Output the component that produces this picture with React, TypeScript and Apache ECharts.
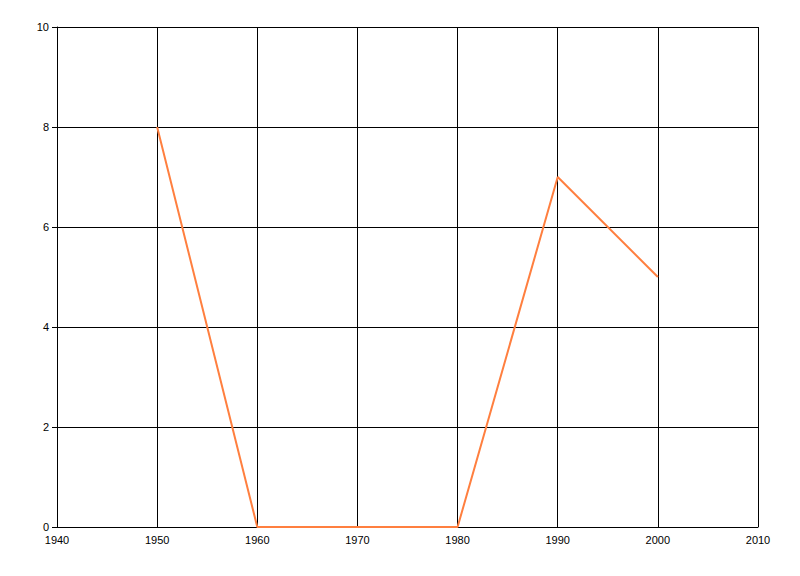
import React, { useEffect, useRef } from "react";
import * as echarts from "echarts";

const years = [1950, 1960, 1970, 1980, 1990, 2000];
const values = [8, 0, 0, 0, 7, 5];

export default function App() {
  const ref = useRef<HTMLDivElement>(null);
  useEffect(() => {
    const chart = echarts.init(ref.current!, null, { renderer: "svg" });
    const font = { fontFamily: "Liberation Sans", fontSize: 11, color: "#000" };
    chart.setOption({
      animation: false,
      backgroundColor: "#fff",
      grid: { left: 57, right: 42, top: 27, bottom: 49, containLabel: false },
      xAxis: {
        type: "value",
        min: 1940,
        max: 2010,
        interval: 10,
        axisLine: { show: true, lineStyle: { color: "#000", width: 1 } },
        axisTick: { show: false },
        axisLabel: { ...font, margin: 7, formatter: (v: number) => String(v) },
        splitLine: { show: true, lineStyle: { color: "#000", width: 1 } },
      },
      yAxis: {
        type: "value",
        min: 0,
        max: 10,
        interval: 2,
        axisLine: { show: true, lineStyle: { color: "#000", width: 1 } },
        axisTick: { show: true, length: 5, lineStyle: { color: "#000" } },
        axisLabel: { ...font, margin: 8 },
        splitLine: { show: true, lineStyle: { color: "#000", width: 1 } },
      },
      series: [
        {
          type: "line",
          data: years.map((y, i) => [y, values[i]]),
          showSymbol: false,
          lineStyle: { color: "#FF7F3F", width: 2 },
          itemStyle: { color: "#FF7F3F" },
        },
      ],
    });
    return () => chart.dispose();
  }, []);
  return (
    <div
      ref={ref}
      style={{ position: "fixed", left: 0, top: 0, width: 800, height: 576 }}
    />
  );
}
